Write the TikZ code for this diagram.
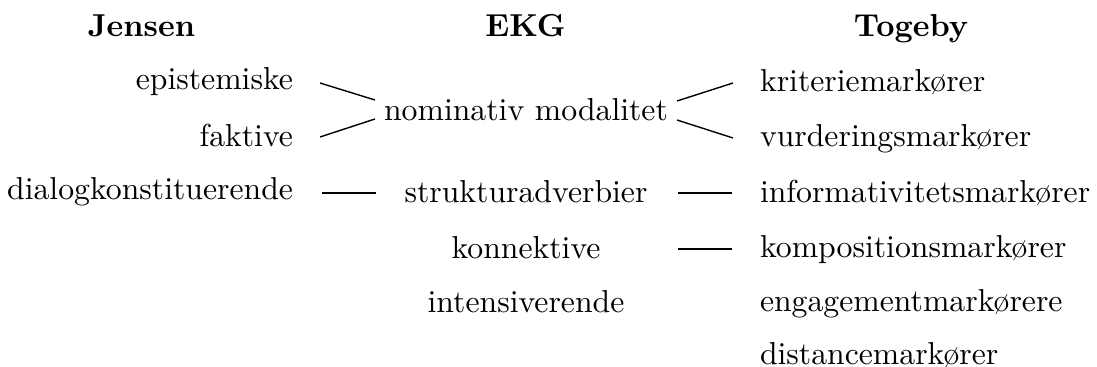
\documentclass[tikz,border=0pt]{standalone}
\begin{document}
\begin{tikzpicture}[x=0.3215pt,y=-0.3215pt,
  every node/.style={inner sep=0pt,outer sep=0pt,font=\fontsize{10.2}{12}\selectfont},
  head/.style={anchor=base,font=\fontsize{10.2}{12}\selectfont\bfseries},
  jcol/.style={anchor=base east},
  ecol/.style={anchor=base},
  tcol/.style={anchor=base west},
  link/.style={draw=black,line width=0.45pt}]
\useasboundingbox (0,0) rectangle (1097,367);
% headers
\node[head] (hJ) at (141.5,37) {Jensen};
\node[head] (hE) at (525.5,37) {EKG};
\node[head] (hT) at (911,37) {Togeby};
% Jensen
\node[jcol] (epi) at (293,90) {epistemiske};
\node[jcol] (fak) at (293,147) {faktive};
\node[jcol] (dia) at (293,200) {dialogkonstituerende};
% EKG
\node[ecol] (nom) at (526,121) {nominativ modalitet};
\node[ecol] (str) at (526,203) {strukturadverbier};
\node[ecol] (kon) at (526,258) {konnektive};
\node[ecol] (int) at (526,312) {intensiverende};
% Togeby
\node[tcol] (kri) at (760,92) {kriteriemarkører};
\node[tcol] (vur) at (760,147) {vurderingsmarkører};
\node[tcol] (inf) at (760,202) {informativitetsmarkører};
\node[tcol] (kom) at (760,257) {kompositionsmarkører};
\node[tcol] (eng) at (760,311) {engagementmarkørere};
\node[tcol] (dis) at (760,364) {distancemarkører};
% connector end points
\coordinate (epiR) at (320,83);
\coordinate (fakR) at (320,137);
\coordinate (nomL1) at (375,100);
\coordinate (nomL2) at (375,119);
\coordinate (diaR) at (322,193);
\coordinate (strL) at (376,193);
\coordinate (nomR1) at (677,101);
\coordinate (nomR2) at (677,120);
\coordinate (kriL) at (733,83);
\coordinate (vurL) at (733,138);
\coordinate (strR) at (678,193);
\coordinate (infL) at (732,193);
\coordinate (konR) at (678,249);
\coordinate (komL) at (732,249);
% connectors
\draw[link] (epiR) -- (nomL1);
\draw[link] (fakR) -- (nomL2);
\draw[link] (diaR) -- (strL);
\draw[link] (nomR1) -- (kriL);
\draw[link] (nomR2) -- (vurL);
\draw[link] (strR) -- (infL);
\draw[link] (konR) -- (komL);
\end{tikzpicture}
\end{document}
